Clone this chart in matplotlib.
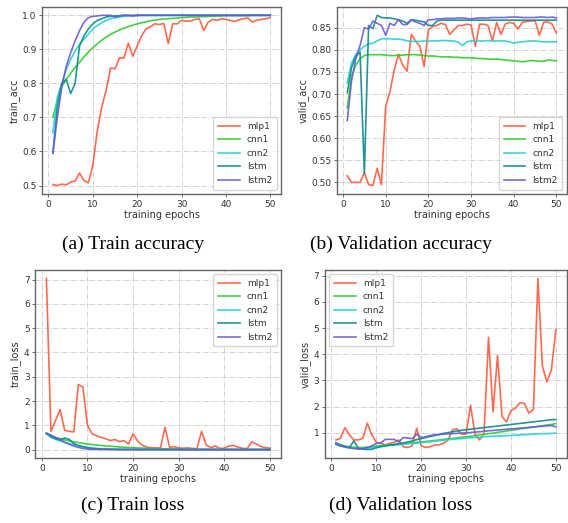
import numpy as np
import matplotlib
matplotlib.use('Agg')
import matplotlib.pyplot as plt

epochs = list(range(1, 51))
models = ['mlp1', 'cnn1', 'cnn2', 'lstm', 'lstm2']
colors = ['#ff5a3c', '#2ecc2e', '#22d3d3', '#0a8a8a', '#6a5ad6']

# ---- train accuracy
train_acc = {
    'mlp1': [0.503, 0.500, 0.504, 0.502, 0.510, 0.513, 0.537, 0.515, 0.508, 0.560,
             0.660, 0.730, 0.780, 0.845, 0.843, 0.875, 0.875, 0.918, 0.880, 0.910,
             0.940, 0.960, 0.967, 0.975, 0.973, 0.976, 0.917, 0.975, 0.975, 0.985,
             0.983, 0.983, 0.988, 0.990, 0.955, 0.980, 0.988, 0.985, 0.990, 0.988,
             0.985, 0.982, 0.987, 0.990, 0.992, 0.980, 0.986, 0.988, 0.990, 0.993],
    'cnn1': [0.700, 0.750, 0.790, 0.812, 0.830, 0.847, 0.862, 0.878, 0.892, 0.905,
             0.916, 0.927, 0.936, 0.944, 0.951, 0.957, 0.962, 0.967, 0.971, 0.975,
             0.978, 0.981, 0.984, 0.986, 0.988, 0.989, 0.990, 0.991, 0.992, 0.993,
             0.994, 0.995, 0.995, 0.996, 0.996, 0.997, 0.997, 0.998, 0.998, 0.999,
             0.999, 0.999, 0.999, 0.999, 0.999, 1.000, 1.000, 1.000, 1.000, 1.000],
    'cnn2': [0.655, 0.760, 0.800, 0.840, 0.870, 0.895, 0.915, 0.930, 0.945, 0.960,
             0.970, 0.978, 0.985, 0.990, 0.993, 0.995, 0.997, 0.998, 0.999, 0.999,
             1.000, 1.000, 1.000, 1.000, 1.000, 1.000, 1.000, 1.000, 1.000, 1.000,
             1.000, 1.000, 1.000, 1.000, 1.000, 1.000, 1.000, 1.000, 1.000, 1.000,
             1.000, 1.000, 1.000, 1.000, 1.000, 1.000, 1.000, 1.000, 1.000, 1.000],
    'lstm': [0.595, 0.730, 0.800, 0.812, 0.770, 0.800, 0.910, 0.940, 0.960, 0.975,
             0.985, 0.990, 0.995, 0.997, 0.998, 0.999, 1.000, 1.000, 1.000, 1.000,
             1.000, 1.000, 1.000, 1.000, 1.000, 1.000, 1.000, 1.000, 1.000, 1.000,
             1.000, 1.000, 1.000, 1.000, 1.000, 1.000, 1.000, 1.000, 1.000, 1.000,
             1.000, 1.000, 1.000, 1.000, 1.000, 1.000, 1.000, 1.000, 1.000, 1.000],
    'lstm2': [0.595, 0.700, 0.790, 0.850, 0.890, 0.925, 0.955, 0.980, 0.993, 0.997,
              0.998, 1.000, 1.000, 1.000, 0.995, 0.998, 1.000, 1.000, 0.998, 1.000,
              1.000, 1.000, 1.000, 1.000, 1.000, 1.000, 1.000, 1.000, 1.000, 1.000,
              1.000, 1.000, 1.000, 1.000, 1.000, 1.000, 1.000, 1.000, 1.000, 1.000,
              1.000, 1.000, 1.000, 1.000, 1.000, 1.000, 1.000, 1.000, 1.000, 1.000],
}

# ---- validation accuracy
valid_acc = {
    'mlp1': [0.515, 0.500, 0.500, 0.500, 0.522, 0.495, 0.493, 0.532, 0.495, 0.672,
             0.705, 0.755, 0.790, 0.765, 0.752, 0.835, 0.820, 0.808, 0.762, 0.845,
             0.853, 0.855, 0.860, 0.857, 0.835, 0.845, 0.855, 0.855, 0.858, 0.856,
             0.808, 0.858, 0.858, 0.855, 0.820, 0.862, 0.835, 0.858, 0.862, 0.860,
             0.847, 0.862, 0.864, 0.865, 0.866, 0.833, 0.862, 0.863, 0.858, 0.838],
    'cnn1': [0.668, 0.740, 0.765, 0.780, 0.787, 0.789, 0.789, 0.789, 0.789, 0.788,
             0.787, 0.787, 0.788, 0.788, 0.789, 0.789, 0.789, 0.788, 0.787, 0.786,
             0.786, 0.785, 0.784, 0.784, 0.784, 0.783, 0.783, 0.782, 0.782, 0.782,
             0.781, 0.780, 0.780, 0.779, 0.779, 0.779, 0.778, 0.777, 0.776, 0.775,
             0.774, 0.773, 0.774, 0.776, 0.775, 0.774, 0.774, 0.777, 0.776, 0.775],
    'cnn2': [0.725, 0.770, 0.790, 0.800, 0.808, 0.813, 0.815, 0.820, 0.825, 0.825,
             0.825, 0.824, 0.824, 0.823, 0.820, 0.819, 0.819, 0.819, 0.820, 0.820,
             0.820, 0.820, 0.821, 0.821, 0.820, 0.820, 0.817, 0.810, 0.818, 0.820,
             0.820, 0.820, 0.820, 0.821, 0.820, 0.820, 0.820, 0.820, 0.818, 0.815,
             0.817, 0.818, 0.819, 0.820, 0.820, 0.819, 0.818, 0.818, 0.818, 0.818],
    'lstm': [0.703, 0.760, 0.785, 0.795, 0.520, 0.855, 0.848, 0.878, 0.873, 0.872,
             0.872, 0.870, 0.868, 0.865, 0.860, 0.868, 0.867, 0.865, 0.863, 0.855,
             0.855, 0.865, 0.867, 0.867, 0.867, 0.867, 0.867, 0.867, 0.867, 0.867,
             0.867, 0.867, 0.867, 0.867, 0.867, 0.867, 0.867, 0.867, 0.867, 0.867,
             0.867, 0.867, 0.867, 0.867, 0.867, 0.867, 0.867, 0.867, 0.867, 0.867],
    'lstm2': [0.640, 0.730, 0.780, 0.810, 0.850, 0.847, 0.865, 0.860, 0.855, 0.833,
              0.860, 0.855, 0.868, 0.857, 0.857, 0.867, 0.863, 0.860, 0.855, 0.868,
              0.868, 0.870, 0.870, 0.871, 0.871, 0.871, 0.872, 0.872, 0.871, 0.870,
              0.871, 0.872, 0.872, 0.872, 0.873, 0.873, 0.873, 0.873, 0.874, 0.874,
              0.874, 0.873, 0.873, 0.873, 0.873, 0.874, 0.874, 0.873, 0.874, 0.872],
}

# ---- train loss
train_loss = {
    'mlp1': [7.05, 0.75, 1.20, 1.65, 0.80, 0.75, 0.73, 2.68, 2.58, 1.00,
             0.65, 0.57, 0.50, 0.45, 0.37, 0.42, 0.33, 0.37, 0.23, 0.65,
             0.35, 0.18, 0.10, 0.08, 0.07, 0.07, 0.92, 0.10, 0.12, 0.07,
             0.06, 0.07, 0.05, 0.04, 0.75, 0.20, 0.08, 0.15, 0.05, 0.06,
             0.15, 0.17, 0.10, 0.05, 0.04, 0.32, 0.23, 0.13, 0.08, 0.06],
    'cnn1': [0.65, 0.57, 0.50, 0.45, 0.40, 0.36, 0.32, 0.29, 0.26, 0.23,
             0.21, 0.19, 0.17, 0.155, 0.14, 0.125, 0.11, 0.10, 0.09, 0.08,
             0.07, 0.065, 0.055, 0.05, 0.04, 0.037, 0.034, 0.03, 0.027, 0.025,
             0.022, 0.02, 0.018, 0.017, 0.015, 0.014, 0.013, 0.012, 0.011, 0.01,
             0.009, 0.009, 0.008, 0.008, 0.007, 0.007, 0.006, 0.006, 0.005, 0.005],
    'cnn2': [0.65, 0.50, 0.42, 0.36, 0.30, 0.25, 0.20, 0.16, 0.12, 0.09,
             0.07, 0.05, 0.04, 0.03, 0.02, 0.015, 0.012, 0.01, 0.01, 0.01,
             0.005, 0.005, 0.004, 0.004, 0.003, 0.003, 0.003, 0.002, 0.002, 0.002,
             0.002, 0.002, 0.001, 0.001, 0.001, 0.001, 0.001, 0.001, 0.001, 0.001,
             0.001, 0.001, 0.001, 0.001, 0.001, 0.001, 0.001, 0.001, 0.001, 0.001],
    'lstm': [0.68, 0.55, 0.45, 0.40, 0.48, 0.42, 0.25, 0.17, 0.12, 0.07,
             0.05, 0.03, 0.02, 0.015, 0.01, 0.008, 0.006, 0.005, 0.004, 0.003,
             0.003, 0.002, 0.002, 0.002, 0.001, 0.001, 0.001, 0.001, 0.001, 0.001,
             0.001, 0.001, 0.001, 0.001, 0.001, 0.001, 0.001, 0.001, 0.001, 0.001,
             0.001, 0.001, 0.001, 0.001, 0.001, 0.001, 0.001, 0.001, 0.001, 0.001],
    'lstm2': [0.68, 0.60, 0.50, 0.42, 0.30, 0.22, 0.15, 0.09, 0.05, 0.02,
              0.015, 0.01, 0.008, 0.006, 0.01, 0.005, 0.003, 0.002, 0.004, 0.002,
              0.001, 0.001, 0.001, 0.001, 0.001, 0.001, 0.001, 0.001, 0.001, 0.001,
              0.001, 0.001, 0.001, 0.001, 0.001, 0.001, 0.001, 0.001, 0.001, 0.001,
              0.001, 0.001, 0.001, 0.001, 0.001, 0.001, 0.001, 0.001, 0.001, 0.001],
}

# ---- validation loss
valid_loss = {
    'mlp1': [0.73, 0.79, 1.20, 0.92, 0.73, 0.73, 0.79, 1.37, 0.92, 0.64,
             0.60, 0.54, 0.60, 0.64, 0.73, 0.47, 0.44, 0.50, 1.18, 0.51,
             0.44, 0.47, 0.54, 0.54, 0.60, 0.73, 1.12, 1.15, 0.95, 0.95,
             2.05, 0.92, 0.73, 0.99, 4.65, 1.80, 3.95, 1.62, 1.42, 1.85,
             1.95, 2.15, 2.12, 1.75, 1.90, 6.90, 3.55, 2.95, 3.40, 4.95],
    'cnn1': [0.60, 0.55, 0.50, 0.47, 0.45, 0.44, 0.44, 0.45, 0.47, 0.50,
             0.52, 0.53, 0.55, 0.56, 0.58, 0.59, 0.61, 0.62, 0.64, 0.65,
             0.67, 0.69, 0.71, 0.73, 0.75, 0.77, 0.79, 0.81, 0.83, 0.85,
             0.87, 0.89, 0.92, 0.94, 0.97, 0.99, 1.02, 1.04, 1.07, 1.10,
             1.12, 1.15, 1.17, 1.20, 1.22, 1.25, 1.27, 1.30, 1.32, 1.35],
    'cnn2': [0.55, 0.50, 0.46, 0.43, 0.41, 0.40, 0.40, 0.41, 0.43, 0.46,
             0.48, 0.50, 0.52, 0.53, 0.55, 0.56, 0.58, 0.59, 0.60, 0.62,
             0.64, 0.66, 0.68, 0.70, 0.72, 0.74, 0.75, 0.77, 0.78, 0.80,
             0.81, 0.82, 0.83, 0.85, 0.86, 0.87, 0.88, 0.88, 0.89, 0.90,
             0.91, 0.92, 0.93, 0.94, 0.95, 0.96, 0.97, 0.97, 0.98, 0.99],
    'lstm': [0.62, 0.53, 0.48, 0.43, 0.70, 0.40, 0.38, 0.36, 0.37, 0.43,
             0.47, 0.50, 0.53, 0.55, 0.58, 0.61, 0.65, 0.69, 0.74, 0.78,
             0.82, 0.86, 0.90, 0.94, 0.98, 1.01, 1.04, 1.07, 1.10, 1.12,
             1.14, 1.16, 1.18, 1.20, 1.22, 1.24, 1.26, 1.28, 1.30, 1.32,
             1.34, 1.36, 1.38, 1.40, 1.42, 1.44, 1.46, 1.48, 1.50, 1.51],
    'lstm2': [0.58, 0.50, 0.46, 0.43, 0.40, 0.38, 0.40, 0.44, 0.50, 0.60,
              0.62, 0.75, 0.75, 0.75, 0.65, 0.82, 0.80, 0.78, 0.95, 0.82,
              0.85, 0.90, 0.92, 0.93, 0.95, 0.96, 0.97, 0.98, 0.99, 1.00,
              1.01, 1.03, 1.04, 1.06, 1.08, 1.09, 1.11, 1.12, 1.14, 1.15,
              1.16, 1.18, 1.19, 1.21, 1.22, 1.24, 1.25, 1.27, 1.28, 1.23],
}

panels = [
    (train_acc, 'train_acc', 'lower right', [0.074, 0.629, 0.421, 0.358], '(a) Train accuracy', (0.234, 0.532)),
    (valid_acc, 'valid_acc', 'lower right', [0.593, 0.629, 0.405, 0.358], '(b) Validation accuracy', (0.706, 0.532)),
    (train_loss, 'train_loss', 'upper right', [0.062, 0.124, 0.433, 0.360], '(c) Train loss', (0.234, 0.034)),
    (valid_loss, 'valid_loss', 'upper left', [0.572, 0.124, 0.426, 0.360], '(d) Validation loss', (0.706, 0.034)),
]

plt.rcParams['text.color'] = '#333333'
plt.rcParams['axes.labelcolor'] = '#333333'
plt.rcParams['xtick.labelcolor'] = '#333333'
plt.rcParams['ytick.labelcolor'] = '#333333'

fig = plt.figure(figsize=(5.68, 5.23), dpi=100)

for data, ylabel, loc, rect, caption, cpos in panels:
    ax = fig.add_axes(rect)
    for name, c in zip(models, colors):
        ax.plot(epochs, data[name], color=c, lw=1.2, alpha=0.9, label=name)
    ax.set_xlabel('training epochs', fontsize=7, labelpad=1)
    ax.set_ylabel(ylabel, fontsize=7, labelpad=2)
    ax.set_xticks([0, 10, 20, 30, 40, 50])
    ax.tick_params(labelsize=6.5, length=2.5, width=0.6, pad=1.5, color='#555555')
    ax.grid(True, linestyle='-.', color='#cccccc', linewidth=0.6)
    for s in ax.spines.values():
        s.set_color('#666666')
        s.set_linewidth(1.0)
    ax.legend(loc=loc, fontsize=6.5, frameon=True, fancybox=True, edgecolor='#cccccc',
              handlelength=2.4, borderpad=0.5, labelspacing=0.5)
    fig.text(cpos[0], cpos[1], caption, ha='center', va='center', color='black',
             family='Liberation Serif', fontsize=14)

fig.savefig('out.png', dpi=100)
